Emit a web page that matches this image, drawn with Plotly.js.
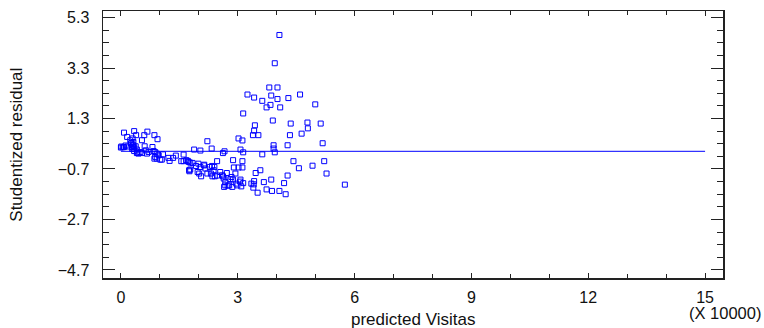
<!DOCTYPE html>
<html>
<head>
<meta charset="utf-8">
<script src="https://cdn.plot.ly/plotly-3.0.1.min.js"></script>
<style>html,body{margin:0;padding:0;background:#fff;}#chart{width:764px;height:328px;}</style>
</head>
<body>
<div id="chart"></div>
<script>
// predicted Visitas (x 10000)
const predictedX = [
  0.08,0.16,0.24,0.30,0.34,0.39,0.54,0.60,0.68,0.86,0.94,0.01,0.00,0.05,0.08,0.12,0.16,0.26,0.27,0.32,
  0.31,0.32,0.34,0.28,0.29,0.32,0.34,0.38,0.41,0.41,0.42,0.45,0.50,0.54,0.61,0.64,0.71,0.67,0.81,0.84,
  0.88,0.92,0.97,0.88,0.86,0.92,1.01,1.05,1.08,1.22,1.25,1.34,1.41,
  1.61,1.55,1.61,1.68,1.72,1.74,1.78,1.84,1.75,1.78,1.76,1.88,2.04,2.22,2.33,2.62,2.66,1.93,1.99,2.04,
  1.97,2.01,2.06,2.13,2.14,2.17,2.22,2.28,2.34,2.40,2.38,2.31,2.35,2.41,2.47,2.55,2.62,2.64,2.68,2.68,
  2.78,2.74,2.84,2.81,2.88,2.72,2.47,2.60,2.86,2.65,
  2.88,3.12,2.90,3.02,3.12,2.94,3.07,3.06,2.96,3.14,3.09,2.99,
  4.07,3.95,3.81,4.02,3.25,3.42,3.63,3.86,4.02,4.30,4.60,3.84,3.74,4.09,4.99,3.14,3.90,4.36,4.79,5.13,
  3.44,4.80,3.42,3.39,3.53,4.34,4.64,3.02,3.12,5.18,3.92,3.92,4.28,3.07,3.14,3.95,3.63,4.43,5.22,4.57,
  4.92,3.58,3.46,5.28,4.28,3.42,3.86,3.67,4.19,5.75,3.35,3.41,3.40,3.74,3.88,4.07,3.51,4.23
];
// Studentized residual
const residualY = [
  0.74,0.57,0.44,0.51,0.80,0.64,0.44,0.64,0.78,0.64,0.48,0.19,0.15,0.16,0.17,0.23,0.19,0.31,0.33,0.37,
  0.23,0.24,0.16,0.17,0.09,0.11,0.01,0.20,0.07,-0.07,-0.04,-0.09,-0.03,-0.07,0.20,0.04,-0.03,-0.09,0.17,0.01,
  -0.03,-0.09,-0.16,-0.22,-0.29,-0.29,-0.33,-0.33,-0.12,-0.26,-0.38,-0.26,-0.17,
  -0.13,-0.39,-0.39,-0.35,-0.38,-0.42,-0.45,-0.46,-0.75,-0.72,-0.79,0.07,0.03,0.40,0.11,-0.07,0.00,-0.58,-0.49,-0.62,
  -0.82,-0.88,-0.99,-0.56,-0.53,-0.68,-0.88,-0.62,-0.58,-0.62,-0.75,-0.88,-0.99,-0.99,-0.39,-0.82,-0.99,-1.08,-1.22,-1.35,
  -1.35,-1.36,-1.02,-1.10,-1.12,-0.86,-0.96,-0.95,-1.41,-1.41,
  -0.35,-0.39,-0.64,-0.64,-0.64,-0.88,-1.12,-1.20,-1.28,-1.26,-1.39,-1.35,
  4.61,3.49,2.53,2.53,2.25,2.13,2.00,2.21,2.07,2.11,2.25,1.84,1.74,1.74,1.86,1.50,1.22,1.10,1.14,1.10,
  1.03,0.91,0.82,0.64,0.64,0.64,0.70,0.51,0.43,0.32,0.24,0.11,0.24,0.07,-0.04,-0.04,-0.12,-0.39,-0.39,-0.67,
  -0.57,-0.75,-0.86,-0.88,-0.96,-1.18,-1.12,-1.22,-1.26,-1.32,-1.28,-1.31,-1.44,-1.51,-1.57,-1.57,-1.64,-1.70
];
// reference line (residual = 0) across predicted range
const refLineX = [0, 15];
const refLineY = [0, 0];

const xTitle = "predicted Visitas";
const yTitle = "Studentized residual";
const xScaleNote = "(X 10000)";

const blue = "#0000ff";
const fontFam = "Arial, 'Liberation Sans', sans-serif";

const traces = [
  {
    x: refLineX, y: refLineY, type: "scatter", mode: "lines",
    line: {color: blue, width: 1}, hoverinfo: "skip", showlegend: false
  },
  {
    x: predictedX, y: residualY, type: "scatter", mode: "markers",
    marker: {symbol: "square-open", size: 5, color: blue, line: {width: 1, color: blue}},
    showlegend: false
  }
];

const axisCommon = {
  showgrid: false, zeroline: false, showline: true, linecolor: "#222", linewidth: 1.5,
  mirror: "ticks", ticks: "inside", tickcolor: "#222",
  tickfont: {family: fontFam, size: 16, color: "#111"}
};

const layout = {
  width: 764, height: 328,
  margin: {l: 103, r: 41, t: 11, b: 50, pad: 0},
  paper_bgcolor: "#fff", plot_bgcolor: "#fff",
  showlegend: false,
  xaxis: Object.assign({}, axisCommon, {
    range: [-0.46, 15.46], tick0: 0, dtick: 3, ticklen: 5, tickwidth: 1,
    ticklabelstandoff: 4,
    minor: {dtick: 1, tick0: 0, ticks: "inside", ticklen: 4, tickcolor: "#222", showgrid: false}
  }),
  yaxis: Object.assign({}, axisCommon, {
    range: [-5.02, 5.56], tick0: 5.3, dtick: 2, ticklen: 12, tickwidth: 1,
    tickformat: ".1f", ticklabelstandoff: 9,
    minor: {dtick: 0.5, tick0: 5.3, ticks: "inside", ticklen: 6, tickcolor: "#222", showgrid: false}
  }),
  annotations: [
    {text: yTitle, xref: "paper", yref: "paper", x: -0.140, y: 0.5, xanchor: "center", yanchor: "middle",
     textangle: -90, showarrow: false, font: {family: fontFam, size: 17, color: "#111"}},
    {text: xTitle, xref: "paper", yref: "paper", x: 0.5, y: -0.157, xanchor: "center", yanchor: "middle",
     showarrow: false, font: {family: fontFam, size: 17, color: "#111"}},
    {text: xScaleNote, xref: "paper", yref: "paper", x: 1.004, y: -0.131, xanchor: "center", yanchor: "middle",
     showarrow: false, font: {family: fontFam, size: 16.5, color: "#111"}}
  ]
};

Plotly.newPlot("chart", traces, layout, {staticPlot: true, displayModeBar: false});
</script>
</body>
</html>
